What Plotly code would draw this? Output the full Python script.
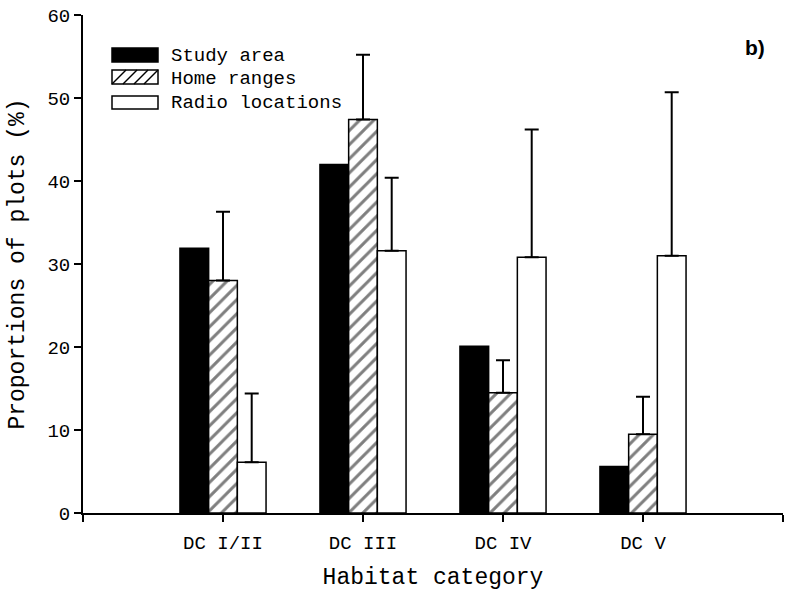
import plotly.graph_objects as go

categories = ["DC I/II", "DC III", "DC IV", "DC V"]
study_area = [31.9, 42.0, 20.1, 5.6]
home_ranges = [28.0, 47.4, 14.5, 9.5]
home_err = [8.3, 7.8, 3.9, 4.5]
radio_locations = [6.1, 31.6, 30.8, 31.0]
radio_err = [8.3, 8.8, 15.4, 19.7]
y_ticks = [0, 10, 20, 30, 40, 50, 60]
series_names = ["Study area", "Home ranges", "Radio locations"]

FONT = "Liberation Mono, Courier New, monospace"
xpos = list(range(1, len(categories) + 1))

W, H = 785, 598
ML, MR, MT, MB = 83, 2, 15, 85
PW, PH = W - ML - MR, H - MT - MB


def px(x):  # page pixel -> paper x
    return (x - ML) / PW


def py(y):
    return (H - MB - y) / PH


fig = go.Figure()
fig.add_trace(go.Bar(
    x=xpos, y=study_area, name=series_names[0],
    marker=dict(color="black", line=dict(color="black", width=1.5)),
))
fig.add_trace(go.Bar(
    x=xpos, y=home_ranges, name=series_names[1],
    marker=dict(color="white", line=dict(color="black", width=1.5),
                pattern=dict(shape="/", fgcolor="black", bgcolor="white", size=10, solidity=0.3)),
    error_y=dict(type="data", array=home_err, arrayminus=[0] * 4, symmetric=False,
                 color="black", thickness=2, width=7),
))
fig.add_trace(go.Bar(
    x=xpos, y=radio_locations, name=series_names[2],
    marker=dict(color="white", line=dict(color="black", width=1.5)),
    error_y=dict(type="data", array=radio_err, arrayminus=[0] * 4, symmetric=False,
                 color="black", thickness=2, width=7),
))

# custom legend (wide swatches like the reference)
shapes = []
annotations = []
rows = [(48, 62), (70, 84), (96, 109)]
text_y = [56, 79, 103]
sx0, sx1 = 112, 158
for i, (y0, y1) in enumerate(rows):
    fill = "black" if i == 0 else "white"
    shapes.append(dict(type="rect", xref="paper", yref="paper",
                       x0=px(sx0), x1=px(sx1), y0=py(y1), y1=py(y0),
                       fillcolor=fill, line=dict(color="black", width=1.5)))
    if i == 1:
        h = y1 - y0
        for off in [0, 11, 22, 32]:
            shapes.append(dict(type="line", xref="paper", yref="paper",
                               x0=px(sx0 + off), y0=py(y1), x1=px(sx0 + off + h), y1=py(y0),
                               line=dict(color="black", width=1.5)))
    annotations.append(dict(text=series_names[i], x=px(169), y=py(text_y[i]),
                            xref="paper", yref="paper", xanchor="left", yanchor="middle",
                            showarrow=False, font=dict(family=FONT, size=19, color="black")))

annotations.append(dict(text="<b>b)</b>", x=px(755), y=py(47), xref="paper", yref="paper",
                        xanchor="center", yanchor="middle", showarrow=False,
                        font=dict(family="Liberation Sans, Arial", size=21, color="black")))

fig.update_layout(
    width=W, height=H,
    margin=dict(l=ML, r=MR, t=MT, b=MB, autoexpand=False),
    paper_bgcolor="white", plot_bgcolor="white",
    barmode="group", bargap=0.385, bargroupgap=0,
    font=dict(family=FONT, size=19, color="black"),
    showlegend=False,
    shapes=shapes,
    annotations=annotations,
)
fig.update_xaxes(
    range=[0, 5], tickvals=[0, 1, 2, 3, 4, 5], ticktext=[""] + categories + [""],
    showline=True, linecolor="black", linewidth=2, ticks="outside", ticklen=7,
    tickwidth=2, tickcolor="black", showgrid=False, zeroline=False,
    tickfont=dict(family=FONT, size=19), ticklabelstandoff=4,
    title=dict(text="Habitat category", font=dict(family=FONT, size=23), standoff=14),
)
fig.update_yaxes(
    range=[0, 60], tickvals=y_ticks,
    showline=True, linecolor="black", linewidth=2, ticks="outside", ticklen=7,
    tickwidth=2, tickcolor="black", showgrid=False, zeroline=False,
    tickfont=dict(family=FONT, size=19), ticklabeloverflow="allow",
    title=dict(text="Proportions of plots (%)", font=dict(family=FONT, size=23), standoff=16),
)

fig.write_html("out.html", config={"displayModeBar": False},
               post_script="document.body.style.margin='0px';")
